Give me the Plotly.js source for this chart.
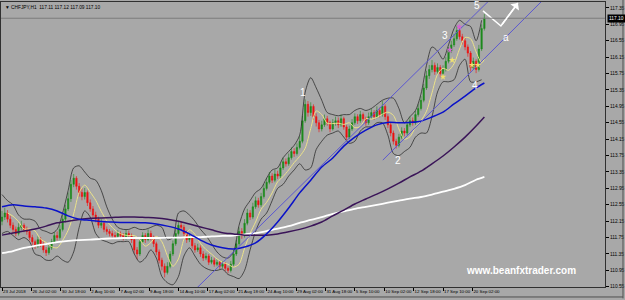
<!DOCTYPE html>
<html>
<head>
<meta charset="utf-8">
<script src="https://cdn.plot.ly/plotly-3.0.1.min.js"></script>
<style>html,body{margin:0;padding:0;background:#a8a8a8;}#chart{width:625px;height:300px;}</style>
</head>
<body>
<div id="chart"></div>
<script>
// ---- CHFJPY H1, resampled to 6-hour candles (hour index from 23 Jul 10:00) ----
const firstOpen = 112.15;
const close = [
112.25,112.35,112.20,112.05,111.95,111.85,112.00,112.05,111.95,111.90,
111.75,111.65,111.55,111.70,111.60,111.45,111.38,111.50,111.65,111.80,
111.75,111.95,112.20,112.45,112.70,113.05,113.20,113.00,112.85,112.75,
112.85,112.60,112.45,112.30,112.20,112.05,112.10,111.95,111.90,111.85,
111.80,111.78,111.85,111.80,111.75,111.85,111.80,111.70,111.45,111.35,
111.65,111.80,111.70,111.85,111.75,111.60,111.40,111.20,111.05,110.90,
111.05,111.35,111.60,111.85,112.05,112.00,111.85,111.70,111.75,111.55,
111.45,111.50,111.35,111.25,111.30,111.15,111.20,111.10,111.15,111.05,
111.10,111.00,110.95,111.10,111.35,111.60,111.90,111.80,112.10,112.35,
112.25,112.50,112.65,112.55,112.75,112.95,113.10,113.25,113.15,113.30,
113.25,113.45,113.60,113.55,113.70,113.85,113.80,113.95,114.10,114.60,
115.00,114.80,114.95,114.70,114.55,114.40,114.50,114.65,114.55,114.40,
114.55,114.60,114.50,114.65,114.45,114.20,114.40,114.55,114.70,114.60,
114.75,114.65,114.55,114.70,114.80,114.70,114.85,114.75,114.95,114.70,
114.50,114.30,114.10,114.00,114.20,114.35,114.30,114.50,114.60,114.55,
114.75,114.90,115.10,115.40,115.70,115.85,115.95,115.80,115.90,115.75,
115.85,116.05,116.30,116.45,116.60,116.80,116.65,116.55,116.40,116.25,
115.90,116.05,115.85,116.35,116.85,117.10];
const high = [
112.40,112.48,112.42,112.28,112.12,112.02,112.10,112.16,112.10,112.02,
111.96,111.82,111.70,111.78,111.76,111.66,111.52,111.58,111.72,111.88,
111.90,112.05,112.30,112.55,112.85,113.15,113.30,113.25,113.08,112.95,
112.96,112.90,112.68,112.52,112.38,112.26,112.20,112.15,112.02,111.96,
111.92,111.88,111.93,111.90,111.86,111.94,111.92,111.85,111.75,111.52,
111.72,111.88,111.86,111.95,111.92,111.80,111.65,111.46,111.26,111.12,
111.15,111.42,111.68,111.95,112.16,112.15,112.06,111.92,111.85,111.80,
111.62,111.60,111.56,111.42,111.38,111.35,111.28,111.26,111.22,111.20,
111.18,111.15,111.05,111.18,111.45,111.70,112.00,111.98,112.20,112.45,
112.42,112.60,112.75,112.72,112.84,113.05,113.20,113.35,113.32,113.40,
113.38,113.55,113.70,113.68,113.80,113.95,113.93,114.05,114.22,114.72,
115.12,115.08,115.05,115.00,114.78,114.62,114.60,114.75,114.72,114.60,
114.64,114.70,114.68,114.75,114.70,114.50,114.48,114.64,114.78,114.76,
114.84,114.80,114.70,114.80,114.90,114.86,114.95,114.92,115.08,115.00,
114.76,114.56,114.36,114.16,114.28,114.44,114.42,114.58,114.70,114.68,
114.84,115.00,115.20,115.50,115.82,115.96,116.08,116.02,116.00,115.96,
115.95,116.15,116.40,116.55,116.72,116.92,116.88,116.72,116.62,116.46,
116.30,116.14,116.10,116.45,116.95,117.20];
const low = [
112.05,112.18,112.12,111.98,111.86,111.78,111.80,111.93,111.88,111.82,
111.68,111.56,111.47,111.50,111.52,111.38,111.30,111.33,111.45,111.60,
111.68,111.70,111.90,112.12,112.40,112.62,112.98,112.92,112.75,112.66,
112.68,112.52,112.38,112.22,112.12,111.98,111.98,111.88,111.82,111.78,
111.74,111.72,111.73,111.74,111.68,111.70,111.74,111.62,111.36,111.22,
111.30,111.60,111.62,111.66,111.68,111.52,111.32,111.12,110.95,110.78,
110.85,111.00,111.30,111.55,111.80,111.92,111.78,111.62,111.64,111.48,
111.38,111.40,111.28,111.18,111.20,111.08,111.10,111.04,111.05,110.98,
111.00,110.93,110.88,110.90,111.05,111.30,111.55,111.72,111.75,112.05,
112.18,112.20,112.45,112.48,112.50,112.70,112.90,113.05,113.08,113.10,
113.18,113.20,113.40,113.48,113.50,113.65,113.72,113.75,113.90,114.05,
114.55,114.70,114.72,114.62,114.46,114.32,114.34,114.45,114.48,114.32,
114.36,114.48,114.42,114.45,114.38,114.12,114.15,114.35,114.50,114.52,
114.55,114.58,114.48,114.50,114.65,114.62,114.66,114.68,114.70,114.62,
114.42,114.22,114.02,113.92,113.95,114.15,114.22,114.25,114.45,114.48,
114.50,114.70,114.85,115.05,115.35,115.62,115.78,115.72,115.74,115.66,
115.70,115.80,116.00,116.25,116.40,116.55,116.58,116.46,116.32,116.16,
115.80,115.85,115.76,115.80,116.30,116.80];

// moving averages, sampled every 24 hours (last point = last bar)
const whiteMA = [111.37,111.42,111.50,111.55,111.59,111.64,111.67,111.69,111.70,111.72,
111.73,111.74,111.74,111.74,111.74,111.75,111.75,111.76,111.76,111.78,
111.79,111.80,111.83,111.86,111.91,111.97,112.03,112.11,112.18,112.25,
112.33,112.39,112.45,112.50,112.55,112.60,112.65,112.70,112.74,112.80,
112.87,112.94,113.03,113.16,113.23];
const purpleMA = [111.81,111.86,111.91,111.96,112.03,112.11,112.15,112.19,112.22,112.23,
112.24,112.25,112.25,112.24,112.23,112.20,112.15,112.08,112.01,111.94,
111.87,111.84,111.81,111.81,111.81,111.84,111.89,111.95,112.03,112.13,
112.28,112.42,112.57,112.69,112.81,112.94,113.08,113.23,113.37,113.55,
113.74,113.96,114.20,114.47,114.69];
const blueMA = [112.50,112.55,112.52,112.50,112.47,112.40,112.28,112.20,112.17,112.14,
112.13,112.12,112.12,112.11,112.08,112.03,111.96,111.84,111.69,111.57,
111.50,111.47,111.52,111.62,111.84,112.13,112.47,112.84,113.15,113.47,
113.69,113.98,114.20,114.37,114.50,114.56,114.55,114.56,114.59,114.69,
114.81,115.01,115.20,115.40,115.52];
// fast (yellow) MA, every 12 hours starting at hour 12, last point = last bar
const yellowMA = [112.35,112.27,112.14,111.96,111.96,111.91,111.71,111.63,111.53,111.50,
111.68,111.93,112.33,112.85,113.03,112.86,112.66,112.39,112.16,112.00,
111.88,111.82,111.80,111.80,111.70,111.54,111.63,111.78,111.65,111.31,
111.05,111.23,111.71,111.94,111.83,111.61,111.46,111.35,111.23,111.15,
111.10,111.03,111.10,111.49,111.85,112.13,112.44,112.61,112.84,113.11,
113.24,113.40,113.58,113.73,113.93,114.41,114.84,114.75,114.54,114.53,
114.54,114.51,114.55,114.43,114.46,114.65,114.64,114.68,114.76,114.81,
114.73,114.40,114.15,114.21,114.44,114.60,114.83,115.28,115.73,115.88,
115.83,115.99,116.35,116.63,116.60,116.28,116.01,116.10];
// envelope bands, every 12 hours from hour 0
const bandUpper = [112.80,112.65,112.55,112.30,112.20,112.20,112.15,111.95,111.90,111.85,
111.95,112.35,112.90,113.45,113.50,113.35,113.20,113.15,112.90,112.50,
112.20,112.00,111.95,111.95,112.00,111.95,111.95,112.00,112.05,112.00,
111.70,111.75,112.35,112.40,112.30,112.15,111.95,111.80,111.60,111.40,
111.28,111.25,111.40,112.05,112.45,112.65,112.85,112.95,113.20,113.40,
113.45,113.70,113.85,114.00,114.25,115.30,115.65,115.40,115.10,114.80,
114.75,114.72,114.75,114.75,114.85,114.90,114.85,114.90,115.00,115.10,
115.15,115.15,114.90,114.55,114.70,114.85,115.25,115.95,116.40,116.30,
116.10,116.45,116.85,117.05,116.95,116.90,116.55,117.05];
const bandLower = [111.85,111.90,111.80,111.70,111.75,111.65,111.35,111.30,111.20,111.20,
111.30,111.20,111.15,111.40,112.00,112.40,112.25,111.85,111.70,111.65,
111.60,111.65,111.65,111.65,111.35,111.15,111.25,111.45,111.25,110.80,
110.65,110.60,110.80,111.30,111.50,111.30,111.10,111.00,110.95,110.95,
110.98,110.85,110.80,110.75,110.95,111.45,111.90,112.20,112.35,112.65,
112.95,113.05,113.25,113.40,113.55,113.40,113.45,113.90,114.10,114.25,
114.30,114.35,114.20,114.05,114.10,114.35,114.45,114.45,114.55,114.55,
114.25,113.80,113.75,113.85,113.95,114.20,114.30,114.30,114.70,115.30,
115.55,115.55,115.60,115.95,116.10,115.55,115.55,115.60];

// drawn objects (hour index, price)
const channelUpperHours = [424, 1062], channelUpperPrices = [110.52, 117.55];
const channelLowerHours = [829, 1178], channelLowerPrices = [113.64, 117.55];
const projHours = [1047, 1086, 1123], projPrices = [117.28, 116.91, 117.47];
const waveLabels = ['1','2','3','4','5','a'];
const waveHours  = [655, 862, 964, 1030, 1034, 1097];
const wavePrices = [115.28, 113.64, 116.67, 115.47, 117.40, 116.64];
const fracUpHours = [975, 995], fracUpPrices = [116.33, 116.89];
const fracDnHours = [960, 980, 1023, 1036], fracDnPrices = [115.67, 116.08, 115.96, 115.96];

const xTickHours = [0,64,128,192,256,320,384,448,512,576,640,704,768,832,896,960,1024];
const xTickText = ['23 Jul 2018','26 Jul 02:00','30 Jul 18:00','2 Aug 10:00','7 Aug 02:00','9 Aug 18:00',
 '14 Aug 10:00','17 Aug 02:00','21 Aug 18:00','24 Aug 10:00','29 Aug 02:00','31 Aug 18:00',
 '5 Sep 10:00','10 Sep 02:00','12 Sep 18:00','17 Sep 10:00','20 Sep 02:00'];
const yTickVals = [110.55,110.95,111.35,111.75,112.15,112.55,112.95,113.35,113.75,114.15,
 114.55,114.95,115.35,115.75,116.15,116.55,116.95,117.35];
const lastPrice = 117.10;
const titleText = '▼ CHFJPY,H1  117.11 117.12 117.09 117.10';
const watermark = 'www.beanfxtrader.com';

// ---- build ----
const open = close.map((c, i) => i === 0 ? firstOpen : close[i - 1]);
const barHour = close.map((c, i) => i * 6);
const lastHour = barHour[barHour.length - 1];
const maHours = []; for (let h = 0; h <= 1032; h += 24) maHours.push(h); maHours.push(lastHour);
const yHours = []; for (let h = 12; h <= 1044; h += 12) yHours.push(h); yHours.push(lastHour);
const bHours = []; for (let h = 0; h <= 1044; h += 12) bHours.push(h);

const BG = '#a8a8a8';
const ln = (x, y, color, width, shape) => ({type:'scatter', mode:'lines', x, y, hoverinfo:'skip',
  line:{color, width, shape: shape || 'spline', smoothing: 0.8}});

const traces = [
  ln(bHours, bandUpper, '#1c1c1c', 0.7),
  ln(bHours, bandLower, '#1c1c1c', 0.7),
  {type:'candlestick', x: barHour, open, high, low, close, hoverinfo:'skip', whiskerwidth:0,
   increasing:{line:{color:'#1d8a1d', width:0.6}, fillcolor:'#1d8a1d'},
   decreasing:{line:{color:'#ee1111', width:0.6}, fillcolor:'#ee1111'}},
  ln(yHours, yellowMA, '#ece38a', 1),
  ln(maHours, whiteMA, '#ffffff', 1.8),
  ln(maHours, purpleMA, '#3a1458', 1.5),
  ln(maHours, blueMA, '#0a12c8', 1.5),
  ln(channelUpperHours, channelUpperPrices, '#5c58d0', 1, 'linear'),
  ln(channelLowerHours, channelLowerPrices, '#5c58d0', 1, 'linear'),
  ln(projHours, projPrices, '#ffffff', 1.5, 'linear'),
  {type:'scatter', mode:'markers', x: fracUpHours, y: fracUpPrices, hoverinfo:'skip',
   marker:{symbol:'star', size:5, color:'#d860d8'}},
  {type:'scatter', mode:'markers', x: fracDnHours, y: fracDnPrices, hoverinfo:'skip',
   marker:{symbol:'star', size:5, color:'#eee070'}}
];

const annotations = waveLabels.map((t, i) => ({x: waveHours[i], y: wavePrices[i], xref:'x', yref:'y',
  text: t, showarrow:false, font:{family:'Liberation Sans, Arial', size:10, color:'#ffffff'}}));
annotations.push({x: projHours[2], y: projPrices[2], ax: projHours[1], ay: projPrices[1],
  xref:'x', yref:'y', axref:'x', ayref:'y', text:'', showarrow:true, arrowhead:1, arrowsize:1.2,
  arrowwidth:1.5, arrowcolor:'#ffffff'});
annotations.push({x: 1130, y: 110.94, xref:'x', yref:'y', text:'<b>' + watermark + '</b>', showarrow:false,
  font:{family:'Liberation Sans, Arial', size:10, color:'#ffffff'}});
annotations.push({x: 0.003, y: 0.998, xref:'paper', yref:'paper', xanchor:'left', yanchor:'top',
  text: titleText, showarrow:false, font:{family:'Liberation Sans, Arial', size:4.8, color:'#000000'}});
annotations.push({x: 1, y: lastPrice, xref:'paper', yref:'y', xanchor:'left', yanchor:'middle', xshift:2,
  text: lastPrice.toFixed(2), showarrow:false, bgcolor:'#000000', borderpad:1,
  font:{family:'Liberation Sans, Arial', size:4.8, color:'#ffffff'}});

const layout = {
  width:625, height:300, paper_bgcolor:BG, plot_bgcolor:BG, showlegend:false, hovermode:false,
  margin:{l:1, r:20, t:2, b:13},
  font:{family:'Liberation Sans, Arial', size:4.8, color:'#000000'},
  xaxis:{range:[-2.2, 1312.6], tickvals:xTickHours, ticktext:xTickText, tickangle:0, ticks:'outside', ticklen:3,
    tickcolor:'#000', showgrid:false, zeroline:false, showline:true, mirror:true, linecolor:'#303030',
    linewidth:1, ticklabelposition:'outside right', rangeslider:{visible:false}, automargin:false,
    tickfont:{size:4.4, color:'#000'}},
  yaxis:{range:[110.545, 117.496], side:'right', tickvals:yTickVals, tickformat:'.2f', ticks:'outside',
    ticklen:3, tickcolor:'#000', showgrid:false, zeroline:false, showline:true, mirror:true, automargin:false,
    linecolor:'#303030', linewidth:1, tickfont:{size:4.8, color:'#000'}},
  shapes:[
    {type:'line', xref:'paper', yref:'y', x0:0, x1:1, y0:lastPrice, y1:lastPrice,
     line:{color:'#7c7c7c', width:1}},
    {type:'line', xref:'paper', yref:'paper', x0:1.0298, x1:1.0298, y0:-0.04, y1:1.01,
     line:{color:'#505050', width:1}},
    {type:'line', xref:'paper', yref:'paper', x0:-0.01, x1:1.0298, y0:-0.035, y1:-0.035,
     line:{color:'#505050', width:1}}
  ],
  annotations
};

Plotly.newPlot('chart', traces, layout, {staticPlot:true, displayModeBar:false});
</script>
</body>
</html>
